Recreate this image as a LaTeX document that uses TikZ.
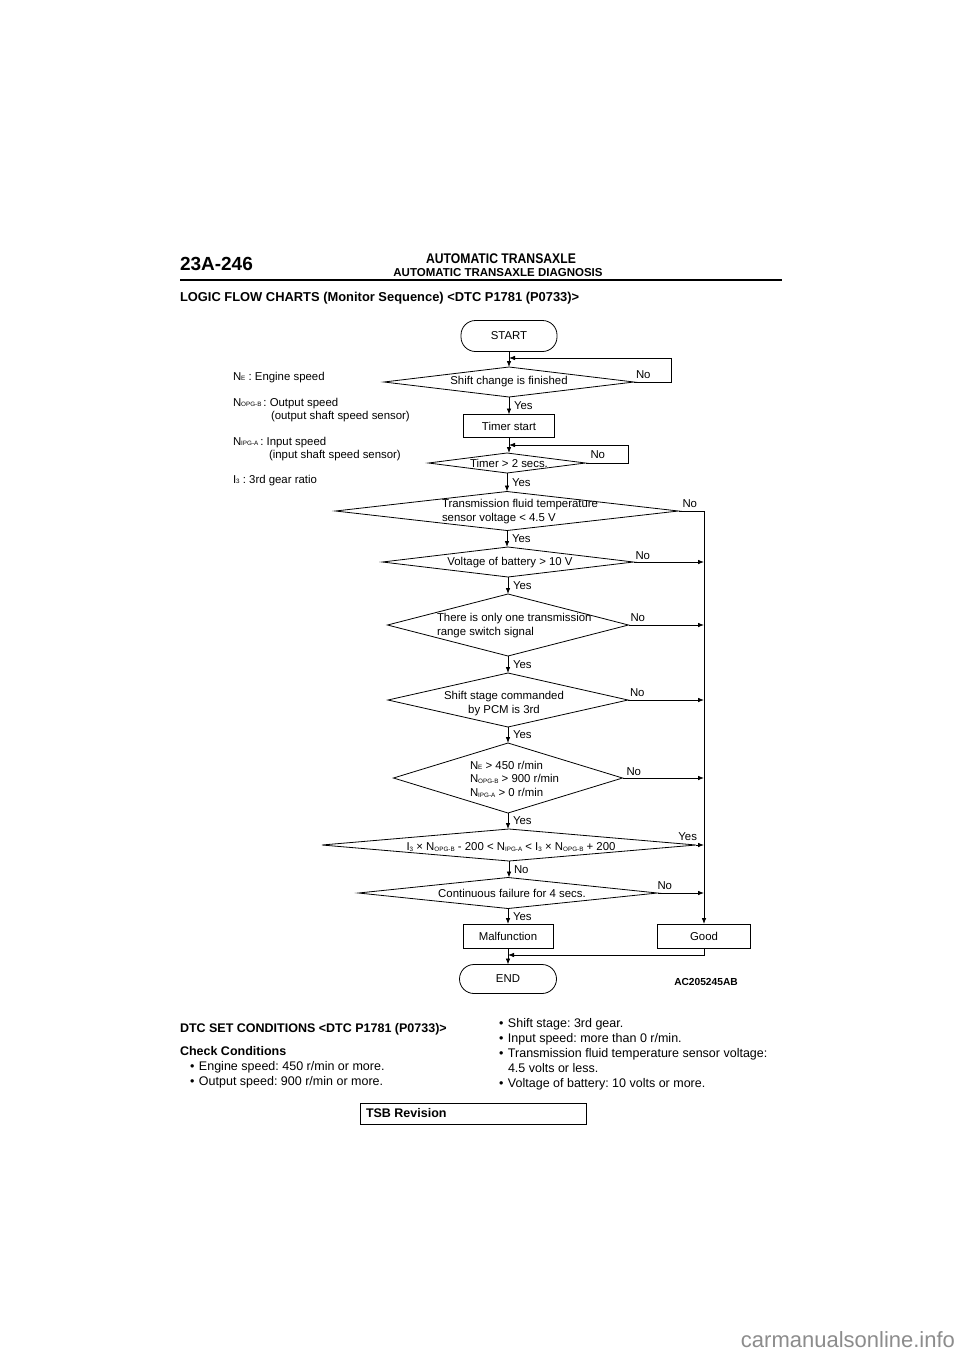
\documentclass[tikz,border=0pt]{standalone}
\usepackage{fontspec}
\setmainfont{Liberation Sans}
\newfontfamily\narrowfont{Liberation Sans}[FakeStretch=0.87]
\usepackage{tikz}
\usetikzlibrary{shapes.geometric,arrows.meta}
\newcommand{\sbs}[1]{\raisebox{-0.6pt}{\fontsize{6.3}{6.3}\selectfont #1}}
\newcommand{\chartfont}{\fontsize{11.4}{14}\selectfont}
\newcommand{\bodyfont}{\fontsize{12.5}{15}\selectfont}
\frenchspacing

\begin{document}
\begin{tikzpicture}[x=1pt,y=1pt]
\tikzstyle{every node}+=[inner sep=0pt,outer sep=0pt,font=\chartfont]
\tikzstyle{dia}=[draw=black,diamond,line width=0.8pt]
\tikzstyle{procbox}=[draw=black,rectangle,line width=0.8pt]
\tikzstyle{term}=[draw=black,rectangle,rounded corners=14.5pt,line width=0.8pt]
\tikzstyle{arr}=[line width=0.8pt,-{Latex[length=6pt,width=4.6pt]}]
\fill [white] (0,0) rectangle (960,-1358);
\useasboundingbox (0,0) rectangle (960,-1358);
\node [anchor=base west,font=\bfseries\fontsize{19}{19}\selectfont] (pageno) at (180,-270) {23A-246};
\node [anchor=base,font=\narrowfont\bfseries\fontsize{14}{14}\selectfont] (title) at (501,-263) {AUTOMATIC TRANSAXLE};
\node [anchor=base,font=\bfseries\fontsize{11.5}{11.5}\selectfont] (subtitle) at (498,-276.5) {AUTOMATIC TRANSAXLE DIAGNOSIS};
\draw [line width=2.4pt] (180,-280) -- (782,-280);
\node [anchor=base west,font=\bfseries\fontsize{12.9}{12.9}\selectfont] (heading) at (180,-301) {LOGIC FLOW CHARTS (Monitor Sequence) <DTC P1781 (P0733)>};
\node [anchor=base west] (legE) at (233,-380) {N\sbs{E} : Engine speed};
\node [anchor=base west] (legO) at (233,-406) {N\sbs{OPG-B}\,: Output speed};
\node [anchor=base west] (legOs) at (271,-419) {(output shaft speed sensor)};
\node [anchor=base west] (legI) at (233,-445) {N\sbs{IPG-A}\,: Input speed};
\node [anchor=base west] (legIs) at (269,-458) {(input shaft speed sensor)};
\node [anchor=base west] (legR) at (233,-483) {I\sbs{3} : 3rd gear ratio};
\node [term,minimum width=96,minimum height=31] (start) at (509,-336) {START};
\node [dia,minimum width=250,minimum height=30] (d1) at (509,-382) {};
\node (d1txt) at (509,-382) {Shift change is finished};
\node [procbox,minimum width=91,minimum height=23] (timer) at (509,-426) {Timer start};
\node [dia,minimum width=157,minimum height=20] (d2) at (507,-463) {};
\node (d2txt) at (509,-463) {Timer > 2 secs.};
\node [dia,minimum width=343,minimum height=39] (d3) at (507,-511) {};
\node [anchor=west,align=left] (d3txt) at (442,-512) {Transmission fluid temperature\\sensor voltage < 4.5 V};
\node [dia,minimum width=251,minimum height=30] (d4) at (508,-562) {};
\node (d4txt) at (510,-563) {Voltage of battery > 10 V};
\node [dia,minimum width=241,minimum height=62] (d5) at (508,-625) {};
\node [anchor=west,align=left] (d5txt) at (437,-626) {There is only one transmission\\range switch signal};
\node [dia,minimum width=240,minimum height=54] (d6) at (508,-700) {};
\node [align=center] (d6txt) at (504,-704) {Shift stage commanded\\by PCM is 3rd};
\node [dia,minimum width=229,minimum height=70] (d7) at (508,-778) {};
\node [anchor=west,align=left,font=\fontsize{11.4}{13.6}\selectfont] (d7txt) at (470,-779) {N\sbs{E} > 450 r/min\\N\sbs{OPG-B} > 900 r/min\\N\sbs{IPG-A} > 0 r/min};
\node [dia,minimum width=374,minimum height=32] (d8) at (509,-845) {};
\node (d8txt) at (511,-847) {I\sbs{3} × N\sbs{OPG-B} - 200 < N\sbs{IPG-A} < I\sbs{3} × N\sbs{OPG-B} + 200};
\node [dia,minimum width=299,minimum height=31] (d9) at (508,-893) {};
\node (d9txt) at (512,-893) {Continuous failure for 4 secs.};
\node [procbox,minimum width=90,minimum height=24] (malf) at (508,-936) {Malfunction};
\node [procbox,minimum width=93,minimum height=24] (good) at (704,-936) {Good};
\node [term,minimum width=97,minimum height=29] (stop) at (508,-979) {END};
\node [font=\bfseries\fontsize{10.2}{10.2}\selectfont] (figid) at (706,-982) {AC205245AB};
\coordinate (loop1) at (509,-358);
\coordinate (loop2) at (509,-445);
\coordinate (merge) at (508,-955);
\draw [arr] (start.south) -- (start.south |- d1.north);
\draw [arr] (d1.south) -- node [right=5pt] (y1) {Yes} (d1.south |- timer.north);
\draw [arr] (timer.south) -- (timer.south |- d2.north);
\draw [arr] (d2.south) -- node [right=5pt] (y2) {Yes} (d2.south |- d3.north);
\draw [arr] (d3.south) -- node [right=5pt] (y3) {Yes} (d3.south |- d4.north);
\draw [arr] (d4.south) -- node [right=5pt] (y4) {Yes} (d4.south |- d5.north);
\draw [arr] (d5.south) -- node [right=5pt] (y5) {Yes} (d5.south |- d6.north);
\draw [arr] (d6.south) -- node [right=5pt] (y6) {Yes} (d6.south |- d7.north);
\draw [arr] (d7.south) -- node [right=5pt] (y7) {Yes} (d7.south |- d8.north);
\draw [arr] (d8.south) -- node [right=5pt] (n8) {No} (d8.south |- d9.north);
\draw [arr] (d9.south) -- node [right=5pt] (y9) {Yes} (d9.south |- malf.north);
\draw [arr] (malf.south) -- (malf.south |- stop.north);
\draw [arr] (d1.east) -- ++(37,0) |- (loop1);
\draw [arr] (d2.east) -- ++(43,0) |- (loop2);
\draw [arr] (d3.east) -| (good.north);
\draw [arr] (d4.east) -- (d4.east -| good.north);
\draw [arr] (d5.east) -- (d5.east -| good.north);
\draw [arr] (d6.east) -- (d6.east -| good.north);
\draw [arr] (d7.east) -- (d7.east -| good.north);
\draw [arr] (d8.east) -- (d8.east -| good.north);
\draw [arr] (d9.east) -- (d9.east -| good.north);
\draw [arr] (good.south) |- (merge);
\node [anchor=south west] (n1) at ([shift={(2,3)}]d1.east) {No};
\node [anchor=south west] (n2) at ([shift={(5,4)}]d2.east) {No};
\node [anchor=south west] (n3) at ([shift={(4,3)}]d3.east) {No};
\node [anchor=south west] (n4) at ([shift={(2,2)}]d4.east) {No};
\node [anchor=south west] (n5) at ([shift={(2,3)}]d5.east) {No};
\node [anchor=south west] (n6) at ([shift={(2,3)}]d6.east) {No};
\node [anchor=south west] (n7) at ([shift={(4,2)}]d7.east) {No};
\node [anchor=south east] (y8) at ([shift={(1,4)}]d8.east) {Yes};
\node [anchor=south west] (n9) at ([shift={(0,3)}]d9.east) {No};
\node [anchor=base west,font=\bfseries\fontsize{12.5}{12.5}\selectfont] (setcond) at (180,-1032.5) {DTC SET CONDITIONS <DTC P1781 (P0733)>};
\node [anchor=base west,font=\bfseries\fontsize{12.5}{12.5}\selectfont] (chkcond) at (180,-1055.5) {Check Conditions};
\node [anchor=base west,font=\bodyfont] (b1) at (190,-1070.5) {\makebox[9pt][l]{\textbullet}Engine speed: 450 r/min or more.};
\node [anchor=base west,font=\bodyfont] (b2) at (190,-1085.5) {\makebox[9pt][l]{\textbullet}Output speed: 900 r/min or more.};
\node [anchor=base west,font=\bodyfont] (b3) at (499,-1027.5) {\makebox[9pt][l]{\textbullet}Shift stage: 3rd gear.};
\node [anchor=base west,font=\bodyfont] (b4) at (499,-1042.5) {\makebox[9pt][l]{\textbullet}Input speed: more than 0 r/min.};
\node [anchor=base west,font=\bodyfont] (b5) at (499,-1057.5) {\makebox[9pt][l]{\textbullet}Transmission fluid temperature sensor voltage:};
\node [anchor=base west,font=\bodyfont] (b5b) at (508,-1072.5) {4.5 volts or less.};
\node [anchor=base west,font=\bodyfont] (b6) at (499,-1087.5) {\makebox[9pt][l]{\textbullet}Voltage of battery: 10 volts or more.};
\node [procbox,anchor=north west,minimum width=226,minimum height=21] (tsb) at (360,-1103) {};
\node [anchor=west,font=\bfseries\fontsize{12.5}{12.5}\selectfont] (tsbtxt) at (366,-1113.5) {TSB Revision};
\node [anchor=base east,text=black!45,font=\fontsize{22}{22}\selectfont] (wmark) at (955,-1347) {carmanualsonline.info};
\end{tikzpicture}
\end{document}
